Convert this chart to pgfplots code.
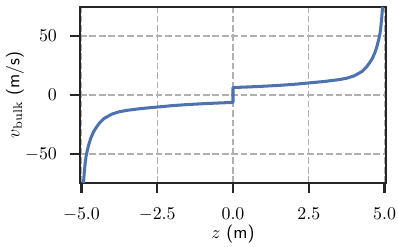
\documentclass[border=0pt]{standalone}
\usepackage{pgfplots}
\pgfplotsset{compat=1.18}
\usetikzlibrary{calc}
\definecolor{sbblue}{HTML}{4C72B0}
\definecolor{gridgray}{HTML}{B0B0B0}
\definecolor{spine}{HTML}{262626}
\begin{document}
\begin{tikzpicture}
\begin{axis}[
  scale only axis,
  width=171.4pt, height=98.6pt,
  xmin=-5.05, xmax=5.05,
  ymin=-74.5, ymax=74.5,
  xtick={-5,-2.5,0,2.5,5},
  ytick={-50,0,50},
  xticklabel style={/pgf/number format/fixed, /pgf/number format/fixed zerofill, /pgf/number format/precision=1, yshift=-5.5pt},
  yticklabel style={xshift=-4.4pt},
  xmajorgrids=true, ymajorgrids=true,
  major grid style={gridgray, line width=0.7pt, dash pattern=on 3.7pt off 1.6pt},
  tick align=outside,
  major tick length=5pt,
  every major tick/.append style={draw=spine, line width=1.2pt},
  axis line style={line width=1.6pt, spine},
  xtick pos=left, ytick pos=left,
  xlabel={$z$ \textsf{(m)}},
  ylabel={$v_{\mathrm{bulk}}$ \textsf{(m/s)}},
  xlabel style={at={(axis description cs:0.5,-0.290)}, anchor=center},
  ylabel style={at={(axis description cs:-0.2124,0.5)}, anchor=center},
  clip=false,
]
\addplot[sbblue, line width=1.7pt, line join=round] coordinates {
(-4.935,-74.5) (-4.91,-66) (-4.88,-58) (-4.85,-52) (-4.8,-46) (-4.76,-42) (-4.7,-37)
(-4.6,-31) (-4.5,-27) (-4.4,-23.5) (-4.25,-19.8) (-4.0,-16.2) (-3.75,-14.2)
(-3.5,-13.0) (-3.0,-11.4) (-2.5,-10.2) (-2.0,-9.0) (-1.5,-8.1) (-1.0,-7.4)
(-0.5,-6.8) (0,-6.3)
(0,6.3) (0.5,6.8) (1.0,7.4) (1.5,8.1) (2.0,9.0) (2.5,10.2) (3.0,11.4)
(3.5,13.0) (3.75,14.2) (4.0,16.2) (4.25,19.8) (4.4,23.5) (4.5,27) (4.6,31)
(4.7,37) (4.76,42) (4.8,46) (4.85,52) (4.88,58) (4.91,66) (4.935,74.5)
};
\draw[spine, line width=1.3pt] (axis cs:-5,-74.5) -- ([yshift=-5.5pt]axis cs:-5,-74.5);
\draw[spine, line width=1.3pt] (axis cs:-2.5,-74.5) -- ([yshift=-5.5pt]axis cs:-2.5,-74.5);
\draw[spine, line width=1.3pt] (axis cs:0,-74.5) -- ([yshift=-5.5pt]axis cs:0,-74.5);
\draw[spine, line width=1.3pt] (axis cs:2.5,-74.5) -- ([yshift=-5.5pt]axis cs:2.5,-74.5);
\draw[spine, line width=1.3pt] (axis cs:5,-74.5) -- ([yshift=-5.5pt]axis cs:5,-74.5);
\draw[spine, line width=1.3pt] (axis cs:-5.05,-50) -- ([xshift=-5.5pt]axis cs:-5.05,-50);
\draw[spine, line width=1.3pt] (axis cs:-5.05,0) -- ([xshift=-5.5pt]axis cs:-5.05,0);
\draw[spine, line width=1.3pt] (axis cs:-5.05,50) -- ([xshift=-5.5pt]axis cs:-5.05,50);
\end{axis}
\pgfresetboundingbox
\path ($(current axis.south west)+(-44.8pt,-35.3pt)$) rectangle ($(current axis.north east)+(6.7pt,3.9pt)$);
\end{tikzpicture}
\end{document}
